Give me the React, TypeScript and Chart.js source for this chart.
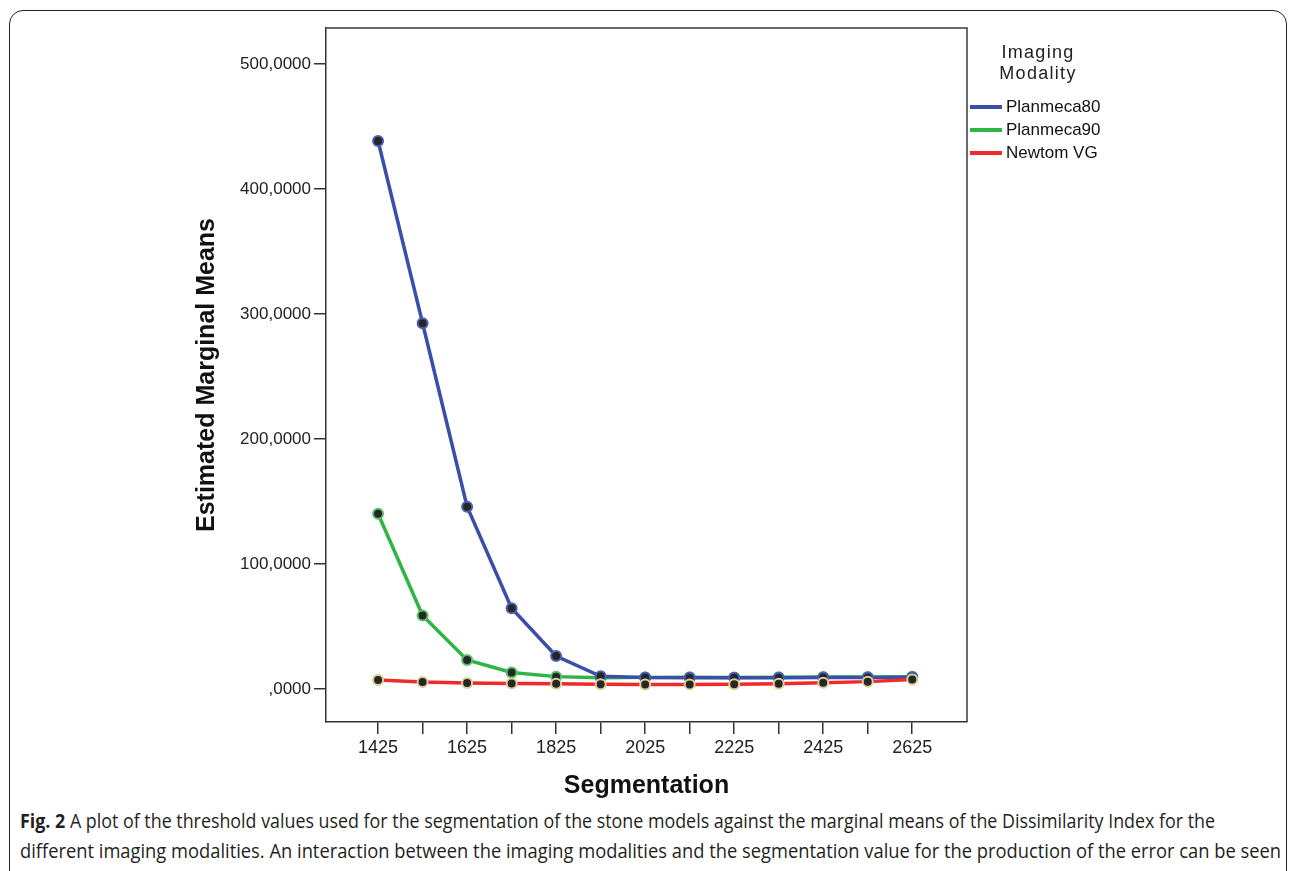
import React, { useEffect, useLayoutEffect, useRef } from "react";
import { Chart, registerables } from "chart.js";

Chart.register(...registerables);

const categories = [1425, 1525, 1625, 1725, 1825, 1925, 2025, 2125, 2225, 2325, 2425, 2525, 2625];
const labeledTicks = [1425, 1625, 1825, 2025, 2225, 2425, 2625];
const yTicks = [0, 100, 200, 300, 400, 500];

const planmeca80 = [438.4, 292.6, 145.8, 64.6, 26.4, 10.2, 9.2, 9.0, 9.0, 9.0, 9.2, 9.3, 9.5];
const planmeca90 = [140.2, 58.8, 23.2, 13.2, 9.9, 9.0, 9.3, 9.4, 9.3, 9.4, 9.6, 9.7, 9.8];
const newtomVG = [7.2, 5.6, 4.8, 4.4, 4.2, 3.8, 3.6, 3.7, 3.8, 4.2, 5.0, 5.9, 7.6];

const seriesNames = ["Planmeca80", "Planmeca90", "Newtom VG"];
const seriesColors = ["#3a4fa8", "#2fb445", "#ee2a2a"];
const pointBorders = ["#4a5fb8", "#58c068", "#d8cf98"];

const FONT = "'Liberation Sans', Arial, sans-serif";

const framePlugin = {
  id: "frame",
  afterDatasetsDraw(chart: any) {
    const { ctx, chartArea } = chart;
    ctx.save();
    ctx.strokeStyle = "#3a3a3a";
    ctx.lineWidth = 1.5;
    ctx.beginPath();
    ctx.moveTo(chartArea.left, chartArea.top);
    ctx.lineTo(chartArea.right, chartArea.top);
    ctx.lineTo(chartArea.right, chartArea.bottom);
    ctx.stroke();
    ctx.restore();
  },
};

function CaptionLine({ children, target, top }: any) {
  const ref = useRef<HTMLDivElement>(null);
  useLayoutEffect(() => {
    const el = ref.current;
    if (!el) return;
    el.style.transform = "none";
    const w = el.getBoundingClientRect().width;
    if (w > 0) el.style.transform = `scaleX(${target / w})`;
  }, [target]);
  return (
    <div
      ref={ref}
      style={{
        position: "absolute",
        left: 20,
        top,
        whiteSpace: "nowrap",
        transformOrigin: "0 0",
        fontFamily: "'Open Sans', 'Noto Sans', sans-serif",
        fontSize: 20,
        lineHeight: "24px",
        color: "#231f20",
      }}
    >
      {children}
    </div>
  );
}

export default function App() {
  const canvasRef = useRef<HTMLCanvasElement>(null);

  useEffect(() => {
    if (!canvasRef.current) return;
    const datasets = [planmeca80, planmeca90, newtomVG].map((d, i) => ({
      label: seriesNames[i],
      data: categories.map((c, j) => ({ x: c, y: d[j] })),
      borderColor: seriesColors[i],
      borderWidth: 3.5,
      pointRadius: 5,
      pointBorderWidth: 2,
      pointBackgroundColor: "#262626",
      pointBorderColor: pointBorders[i],
      tension: 0,
      order: [1, 2, 0][i],
    }));
    const chart = new Chart(canvasRef.current, {
      type: "line",
      data: { datasets },
      plugins: [framePlugin],
      options: {
        animation: false,
        responsive: false,
        maintainAspectRatio: false,
        layout: { padding: { top: 28, left: 190, right: 323, bottom: 0 } },
        plugins: { legend: { display: false }, tooltip: { enabled: false } },
        scales: {
          x: {
            type: "linear",
            min: 1308,
            max: 2748,
            afterBuildTicks: (s: any) => {
              s.ticks = categories.map((v) => ({ value: v }));
            },
            afterFit: (s: any) => {
              s.height = 78;
            },
            grid: {
              display: true,
              drawOnChartArea: false,
              drawTicks: true,
              tickLength: 12,
              color: "#333",
              lineWidth: 1.5,
            },
            border: { display: true, color: "#333", width: 1.5 },
            ticks: {
              autoSkip: false,
              maxRotation: 0,
              padding: 3,
              color: "#222",
              font: { family: FONT, size: 18 },
              callback: (v: any) => (labeledTicks.includes(Number(v)) ? String(v) : ""),
            },
            title: {
              display: true,
              text: "Segmentation",
              color: "#111",
              font: { family: FONT, size: 25, weight: "bold", lineHeight: 1 },
              padding: { top: 0, bottom: 1 },
            },
          },
          y: {
            type: "linear",
            min: -26.4,
            max: 528.8,
            afterBuildTicks: (s: any) => {
              s.ticks = yTicks.map((v) => ({ value: v }));
            },
            afterFit: (s: any) => {
              s.width = 136;
            },
            grid: {
              display: true,
              drawOnChartArea: false,
              drawTicks: true,
              tickLength: 12,
              color: "#333",
              lineWidth: 1.5,
            },
            border: { display: true, color: "#333", width: 1.5 },
            ticks: {
              padding: 3,
              color: "#222",
              font: { family: FONT, size: 17 },
              callback: (v: any) => (Number(v) === 0 ? ",0000" : Number(v).toFixed(4).replace(".", ",")),
            },
            title: {
              display: true,
              text: "Estimated Marginal Means",
              color: "#111",
              font: { family: FONT, size: 25, weight: "bold", lineHeight: 1 },
              padding: { top: 5, bottom: 0 },
            },
          },
        },
      },
    });
    return () => chart.destroy();
  }, []);

  const legendRows = [107, 130, 153];

  return (
    <div style={{ position: "absolute", left: 0, top: 0, width: 1290, height: 871, overflow: "hidden", background: "#fff" }}>
      <div
        style={{
          position: "absolute",
          left: 9,
          top: 10,
          width: 1278,
          height: 880,
          border: "1.6px solid #222",
          borderRadius: 14,
          boxSizing: "border-box",
        }}
      />
      <canvas ref={canvasRef} width={1290} height={800} style={{ position: "absolute", left: 0, top: 0, width: 1290, height: 800 }} />
      <div
        style={{
          position: "absolute",
          left: 978,
          top: 42,
          width: 120,
          textAlign: "center",
          fontFamily: FONT,
          fontSize: 18,
          lineHeight: "21px",
          letterSpacing: "1.3px",
          color: "#222",
        }}
      >
        Imaging
        <br />
        Modality
      </div>
      {seriesNames.map((n, i) => (
        <div key={n}>
          <div
            style={{
              position: "absolute",
              left: 970,
              top: legendRows[i] - 1.75,
              width: 32,
              height: 3.5,
              background: seriesColors[i],
            }}
          />
          <div
            style={{
              position: "absolute",
              left: 1006,
              top: legendRows[i] - 10,
              fontFamily: FONT,
              fontSize: 17,
              lineHeight: "20px",
              color: "#111",
              whiteSpace: "nowrap",
            }}
          >
            {n}
          </div>
        </div>
      ))}
      <CaptionLine target={1195} top={809}>
        <b>Fig. 2</b> A plot of the threshold values used for the segmentation of the stone models against the marginal means of the Dissimilarity Index for the
      </CaptionLine>
      <CaptionLine target={1261} top={839}>
        different imaging modalities. An interaction between the imaging modalities and the segmentation value for the production of the error can be seen
      </CaptionLine>
    </div>
  );
}
